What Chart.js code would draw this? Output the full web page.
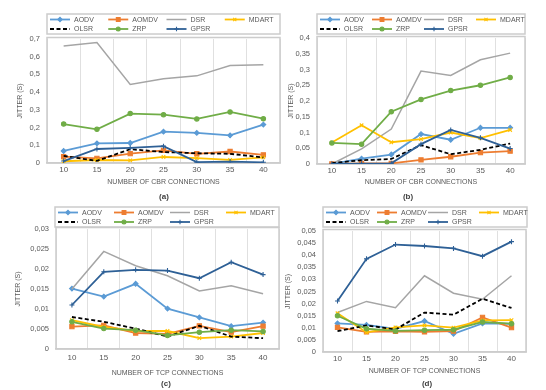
<!DOCTYPE html>
<html><head><meta charset="utf-8">
<script src="https://cdn.jsdelivr.net/npm/chart.js@4.4.1/dist/chart.umd.min.js"></script>
<style>
html,body{margin:0;padding:0;background:#fff;}
#wrap{position:relative;width:546px;height:390px;overflow:hidden;font-family:'Liberation Sans',Arial,sans-serif;}
canvas{position:absolute;left:0;}
.cap{position:absolute;font-size:8px;font-weight:bold;color:#404040;transform:translate(-50%,-50%);white-space:nowrap;}
</style></head><body>
<div id="wrap">
<canvas id="cA" width="546" height="192" style="top:0"></canvas>
<canvas id="cB" width="546" height="192" style="top:0"></canvas>
<canvas id="cC" width="546" height="195" style="top:195px"></canvas>
<canvas id="cD" width="546" height="195" style="top:195px"></canvas>
<div class="cap" style="left:164px;top:196px">(a)</div>
<div class="cap" style="left:408px;top:196px">(b)</div>
<div class="cap" style="left:166px;top:383px">(c)</div>
<div class="cap" style="left:427px;top:383px">(d)</div>
</div>
<script>
// ---- data ----
const categories = ['10','15','20','25','30','35','40'];
const seriesNames = ['AODV','AOMDV','DSR','MDART','OLSR','ZRP','GPSR'];

// (a) jitter vs CBR connections
const aAODV  = [0.068, 0.111, 0.113, 0.177, 0.170, 0.156, 0.217];
const aAOMDV = [0.036, 0.026, 0.053, 0.071, 0.052, 0.065, 0.046];
const aDSR   = [0.661, 0.680, 0.443, 0.476, 0.492, 0.550, 0.554];
const aMDART = [0.010, 0.017, 0.015, 0.034, 0.027, 0.018, 0.032];
const aOLSR  = [0.040, 0.012, 0.078, 0.062, 0.055, 0.052, 0.031];
const aZRP   = [0.220, 0.190, 0.279, 0.273, 0.249, 0.288, 0.250];
const aGPSR  = [0.011, 0.079, 0.085, 0.095, 0.005, 0.008, 0.004];

// (b) jitter vs CBR connections
const bAODV  = [0.000, 0.017, 0.030, 0.095, 0.077, 0.115, 0.115];
const bAOMDV = [0.000, 0.002, 0.002, 0.013, 0.023, 0.036, 0.041];
const bDSR   = [0.000, 0.048, 0.111, 0.295, 0.281, 0.331, 0.352];
const bMDART = [0.068, 0.123, 0.069, 0.079, 0.100, 0.082, 0.108];
const bOLSR  = [0.003, 0.012, 0.016, 0.060, 0.031, 0.045, 0.065];
const bZRP   = [0.067, 0.063, 0.166, 0.205, 0.233, 0.250, 0.275];
const bGPSR  = [0.000, 0.001, 0.002, 0.063, 0.108, 0.083, 0.049];

// (c) jitter vs TCP connections
const cAODV  = [0.0151, 0.0131, 0.0163, 0.0101, 0.0079, 0.0057, 0.0066];
const cAOMDV = [0.0056, 0.0059, 0.0040, 0.0038, 0.0058, 0.0042, 0.0057];
const cDSR   = [0.0150, 0.0244, 0.0208, 0.0183, 0.0145, 0.0158, 0.0138];
const cMDART = [0.0072, 0.0055, 0.0045, 0.0045, 0.0027, 0.0031, 0.0040];
const cOLSR  = [0.0080, 0.0068, 0.0051, 0.0031, 0.0058, 0.0031, 0.0027];
const cZRP   = [0.0068, 0.0051, 0.0047, 0.0034, 0.0042, 0.0047, 0.0044];
const cGPSR  = [0.0110, 0.0193, 0.0198, 0.0196, 0.0177, 0.0217, 0.0186];

// (d) jitter vs TCP connections
const dAODV  = [0.0118, 0.0112, 0.0096, 0.0128, 0.0075, 0.0118, 0.0116];
const dAOMDV = [0.0102, 0.0083, 0.0085, 0.0083, 0.0086, 0.0143, 0.0101];
const dDSR   = [0.0163, 0.0209, 0.0183, 0.0315, 0.0243, 0.0218, 0.0315];
const dMDART = [0.0160, 0.0081, 0.0102, 0.0110, 0.0101, 0.0131, 0.0132];
const dOLSR  = [0.0086, 0.0110, 0.0093, 0.0163, 0.0154, 0.0220, 0.0182];
const dZRP   = [0.0150, 0.0096, 0.0087, 0.0090, 0.0092, 0.0124, 0.0117];
const dGPSR  = [0.0211, 0.0385, 0.0444, 0.0438, 0.0428, 0.0396, 0.0456];

const yMaxes = [0.7, 0.4, 0.03, 0.05];
const ySteps = [0.1, 0.05, 0.005, 0.005];
const xTitles = ['NUMBER OF CBR CONNECTIONS','NUMBER OF CBR CONNECTIONS','NUMBER OF TCP CONNECTIONS','NUMBER OF TCP CONNECTIONS'];
const yTitle = 'JITTER (S)';

// ---- styles ----
const styles = [
  {color:'#5b9bd5', width:1.8, style:'rectRot', r:2.4},
  {color:'#ed7d31', width:1.8, style:'rect', r:3},
  {color:'#a5a5a5', width:1.5, style:'circle', r:0},
  {color:'#ffc000', width:1.8, style:'crossRot', r:2.5},
  {color:'#000000', width:1.8, style:'circle', r:0, dash:[4,2.5]},
  {color:'#70ad47', width:1.8, style:'circle', r:2.2},
  {color:'#2e6096', width:1.8, style:'cross', r:2.5}
];
const FONT = "'Liberation Sans', Arial, sans-serif";
const GREY = '#595959';

function fmt(v){
  if (Math.abs(v) < 1e-9) return '0';
  return String(parseFloat(v.toFixed(4))).replace('.', ',');
}

const framePlugin = {
  id:'frameLegend',
  beforeDatasetsDraw(chart){
    const ca = chart.chartArea, ctx = chart.ctx;
    ctx.save();
    ctx.strokeStyle = '#cccccc'; ctx.lineWidth = 1.5;
    ctx.strokeRect(ca.left, ca.top - 1.5, ca.right - ca.left, ca.bottom - ca.top + 1.5);
    ctx.restore();
  },
  afterDraw(chart, args, opts){
    const ctx = chart.ctx; const [x1,y1,x2,y2] = opts.box;
    ctx.save();
    ctx.strokeStyle = '#cccccc'; ctx.lineWidth = 1.5;
    ctx.strokeRect(x1, y1, x2 - x1, y2 - y1);
    const colW = (x2 - x1) / 4;
    chart.data.datasets.forEach((ds, i) => {
      const col = i % 4, row = Math.floor(i / 4);
      const sx = x1 + 3 + col * colW, sy = y1 + 5.5 + row * 9.5;
      ctx.strokeStyle = ds.borderColor; ctx.lineWidth = ds.borderWidth;
      ctx.setLineDash(ds.borderDash || []);
      ctx.beginPath(); ctx.moveTo(sx, sy); ctx.lineTo(sx + 20, sy); ctx.stroke();
      ctx.setLineDash([]);
      if (ds.pointRadius > 0) {
        ctx.fillStyle = ds.borderColor; ctx.strokeStyle = ds.borderColor; ctx.lineWidth = 1.1;
        Chart.helpers.drawPoint(ctx, {pointStyle: ds.pointStyle, radius: ds.pointRadius * 0.9, rotation: 0, borderWidth: 1.1}, sx + 10, sy);
      }
      ctx.fillStyle = GREY; ctx.font = '7px ' + FONT; ctx.textBaseline = 'middle'; ctx.textAlign = 'left';
      ctx.fillText(ds.label, sx + 24, sy + 0.5);
    });
    ctx.restore();
  }
};

function makePanel(id, idx, series, geo){
  const n = series.length;
  const datasets = series.map((d, i) => ({
    label: seriesNames[i],
    data: d,
    borderColor: styles[i].color,
    backgroundColor: styles[i].color,
    borderWidth: styles[i].width,
    borderDash: styles[i].dash || [],
    pointStyle: styles[i].style,
    pointRadius: styles[i].r,
    pointHoverRadius: styles[i].r,
    pointBorderWidth: 1.1,
    tension: 0,
    order: n - i
  }));
  const padL = geo.yTitleX - 6;
  const yw = geo.L - padL;
  new Chart(document.getElementById(id), {
    type: 'line',
    data: {labels: categories, datasets},
    plugins: [framePlugin],
    options: {
      responsive: false, animation: false, devicePixelRatio: 1,
      layout: {padding: {left: padL, top: geo.T, right: 546 - geo.R, bottom: 0}},
      plugins: {legend: {display: false}, tooltip: {enabled: false}, frameLegend: {box: geo.box}},
      scales: {
        x: {
          offset: true,
          afterFit: s => { s.height = geo.H - geo.B; },
          grid: {display: true, offset: true, color: '#e0e0e0', lineWidth: 1, drawTicks: false},
          border: {display: true, color: '#cccccc', width: 1.5},
          ticks: {padding: geo.xp, font: {size: 8, family: FONT}, color: GREY, maxRotation: 0, autoSkip: false},
          title: {display: true, text: xTitles[idx], font: {size: 7, family: FONT}, color: GREY, padding: {top: 0, bottom: geo.tb}}
        },
        y: {
          min: 0, max: yMaxes[idx],
          afterFit: s => { s.width = yw; },
          grid: {display: false, drawTicks: false},
          border: {display: false},
          ticks: {stepSize: ySteps[idx], padding: 7, autoSkip: false, font: {size: 7.5, family: FONT}, color: GREY, callback: v => fmt(v)},
          title: {display: true, text: yTitle, font: {size: 7, family: FONT}, color: GREY, padding: {top: 1.8, bottom: 0}}
        }
      }
    }
  });
}

makePanel('cA', 0, [aAODV,aAOMDV,aDSR,aMDART,aOLSR,aZRP,aGPSR],
  {L:47, R:280, T:39, B:163, H:192, xp:2, tb:5.8, yTitleX:20.5, box:[47,14,280,34]});
makePanel('cB', 1, [bAODV,bAOMDV,bDSR,bMDART,bOLSR,bZRP,bGPSR],
  {L:317, R:525, T:38, B:164, H:192, xp:2, tb:5.8, yTitleX:291, box:[317,14,525,34]});
makePanel('cC', 2, [cAODV,cAOMDV,cDSR,cMDART,cOLSR,cZRP,cGPSR],
  {L:56, R:279, T:34, B:154, H:195, xp:4, tb:12.8, yTitleX:18, box:[55,12,279,32]});
makePanel('cD', 3, [dAODV,dAOMDV,dDSR,dMDART,dOLSR,dZRP,dGPSR],
  {L:323, R:526, T:36, B:157, H:195, xp:2.2, tb:14.8, yTitleX:288, box:[323,12,527,32]});
</script>
</body></html>
